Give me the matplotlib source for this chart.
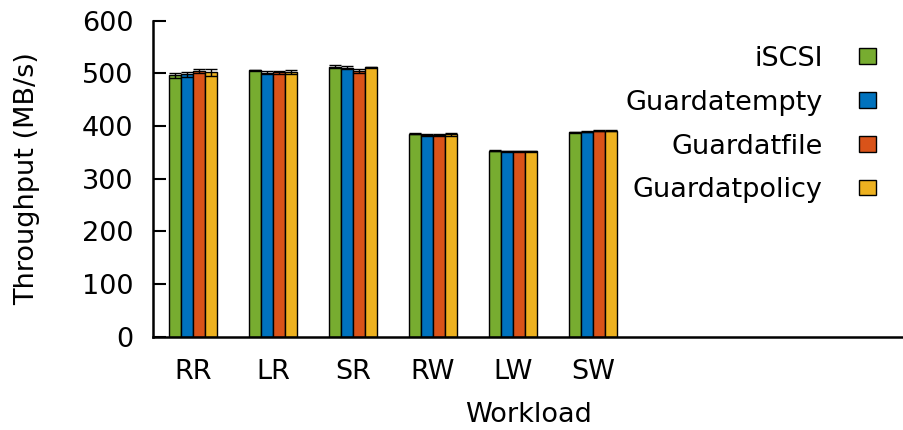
import matplotlib
matplotlib.use("Agg")
import matplotlib.pyplot as plt
from matplotlib.patches import Patch
import numpy as np

plt.rcParams['font.family'] = ['DejaVu Sans']

workloads = ["RR", "LR", "SR", "RW", "LW", "SW"]
series = ["iSCSI", "Guardatempty", "Guardatfile", "Guardatpolicy"]

iscsi = [496, 506, 513, 385, 353, 388]
guard_empty = [498, 501, 511, 383, 352, 389]
guard_file = [505, 502, 505, 383, 352, 391]
guard_policy = [502, 502, 512, 384, 352, 391]

iscsi_err = [4, 1, 3, 1, 1, 1]
guard_empty_err = [4, 3, 3, 1, 1, 1]
guard_file_err = [4, 3, 4, 1, 1, 1]
guard_policy_err = [7, 4, 1, 2, 1, 1]

values = [iscsi, guard_empty, guard_file, guard_policy]
errors = [iscsi_err, guard_empty_err, guard_file_err, guard_policy_err]
colors = ["#77AC30", "#0072BD", "#D95319", "#EDB120"]

FS = 19.5

fig = plt.figure(figsize=(9.04, 4.30), dpi=100)
ax = fig.add_axes([153 / 904, (430 - 336.7) / 430, 1 - 153 / 904, (336.7 - 20.7) / 430])

x = np.arange(len(workloads))
width = 0.15
for i, (vals, errs, col) in enumerate(zip(values, errors, colors)):
    pos = x + (i - 1.5) * width
    ax.bar(pos, vals, width, color=col, edgecolor="black", linewidth=1.0,
           label=series[i], zorder=2)
    ax.errorbar(pos, vals, yerr=errs, fmt="none", ecolor="black",
                elinewidth=1.0, capsize=4.5, capthick=1.0, zorder=3)

ax.set_xlim(-0.5, 8.89)
ax.set_ylim(0, 600)
ax.set_yticks(range(0, 601, 100))
ax.set_xticks(x)
ax.set_xticklabels(workloads)

for side in ("top", "right"):
    ax.spines[side].set_visible(False)
for side in ("left", "bottom"):
    ax.spines[side].set_linewidth(1.8)

ax.tick_params(axis="y", direction="in", length=9.5, width=1.5, pad=14,
               labelsize=FS)
ax.tick_params(axis="x", length=0, pad=16, labelsize=FS)

ax.set_ylabel("Throughput (MB/s)", fontsize=FS, labelpad=30)
ax.set_xlabel("Workload", fontsize=FS, labelpad=12)

handles = [Patch(facecolor=c, edgecolor="black", linewidth=1.0) for c in colors]
ax.legend(handles, series, loc="upper right", bbox_to_anchor=(0.977, 0.955),
          frameon=False, markerfirst=False, fontsize=FS,
          handlelength=0.62, handleheight=0.5, handletextpad=1.35,
          labelspacing=0.66, borderaxespad=0)

fig.savefig("out.png", dpi=100)
